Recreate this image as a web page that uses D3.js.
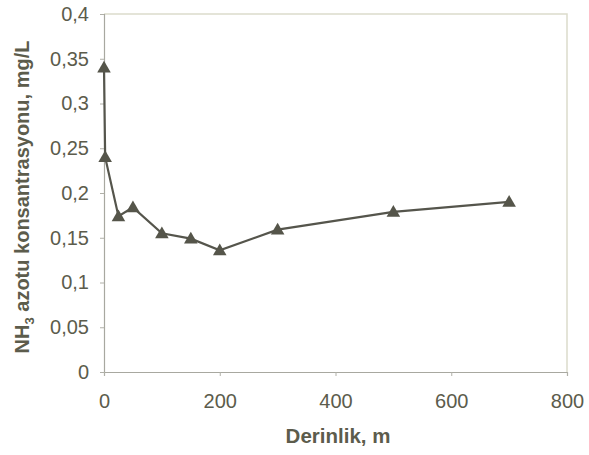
<!DOCTYPE html>
<html>
<head>
<meta charset="utf-8">
<script src="https://cdn.jsdelivr.net/npm/d3@7"></script>
<style>
  body { margin: 0; background: #fff; }
  text { font-family: "Liberation Sans", Arial, sans-serif; fill: #5c5c4c; }
</style>
</head>
<body>
<svg id="chart"></svg>
<script>
// depth (m) and NH3 nitrogen concentration (mg/L)
const depths = [0, 2, 25, 50, 100, 150, 200, 300, 500, 700];
const concentrations = [0.34, 0.24, 0.174, 0.184, 0.155, 0.149, 0.136, 0.159, 0.179, 0.19];
const xTicks = [0, 200, 400, 600, 800];
const yTicks = [0, 0.05, 0.1, 0.15, 0.2, 0.25, 0.3, 0.35, 0.4];

const width = 589, height = 455;
const margin = { top: 14, right: 22, bottom: 83, left: 104 };

const svg = d3.select("#chart")
    .attr("width", width)
    .attr("height", height);

const x = d3.scaleLinear()
    .domain([0, 800])
    .range([margin.left, width - margin.right]);

const y = d3.scaleLinear()
    .domain([0, 0.4])
    .range([height - margin.bottom, margin.top]);

const comma = d3.formatLocale({ decimal: ",", thousands: ".", grouping: [3], currency: ["", ""] });
const yFmt = comma.format("~g");

// plot frame (top and right), very light
svg.append("path")
    .attr("d", `M${x(0)},${y(0.4)}H${x(800)}V${y(0)}`)
    .attr("fill", "none")
    .attr("stroke", "#dcdccc")
    .attr("stroke-width", 1.5);

const yAxis = svg.append("g")
    .attr("transform", `translate(${x(0)},0)`)
    .call(d3.axisLeft(y).tickValues(yTicks).tickFormat(yFmt).tickSize(4).tickPadding(11));

const xAxis = svg.append("g")
    .attr("transform", `translate(0,${y(0)})`)
    .call(d3.axisBottom(x).tickValues(xTicks).tickSize(4).tickPadding(18));

[yAxis, xAxis].forEach(a => {
    a.select(".domain").attr("stroke", "#a8a8a0").attr("stroke-width", 1.2);
    a.selectAll(".tick line").attr("stroke", "#b0b0a8");
    a.selectAll(".tick text")
        .style("font-size", "20px")
        .attr("fill", "#5c5c4c");
});

// line + markers
const pts = depths.map((d, i) => ({ x: d, y: concentrations[i] }));

const line = d3.line()
    .x(d => x(d.x))
    .y(d => y(d.y));

svg.append("path")
    .datum(pts)
    .attr("d", line)
    .attr("fill", "none")
    .attr("stroke", "#55554c")
    .attr("stroke-width", 2.2);

svg.append("g")
    .selectAll("path")
    .data(pts)
    .join("path")
    .attr("transform", d => `translate(${x(d.x)},${y(d.y) + 1})`)
    .attr("d", d3.symbol().type(d3.symbolTriangle).size(80))
    .attr("fill", "#55554a");

// axis titles
svg.append("text")
    .attr("x", 338)
    .attr("y", 443)
    .attr("text-anchor", "middle")
    .style("font-size", "20.5px")
    .style("font-weight", "bold")
    .text("Derinlik, m");

const yt = svg.append("text")
    .attr("transform", `translate(29,${(y(0) + y(0.4)) / 2 + 4}) rotate(-90)`)
    .attr("text-anchor", "middle")
    .style("font-size", "20px")
    .style("font-weight", "bold");
yt.append("tspan").text("NH");
yt.append("tspan").attr("dy", 5).style("font-size", "13px").text("3");
yt.append("tspan").attr("dy", -5).text(" azotu konsantrasyonu, mg/L");
</script>
</body>
</html>
